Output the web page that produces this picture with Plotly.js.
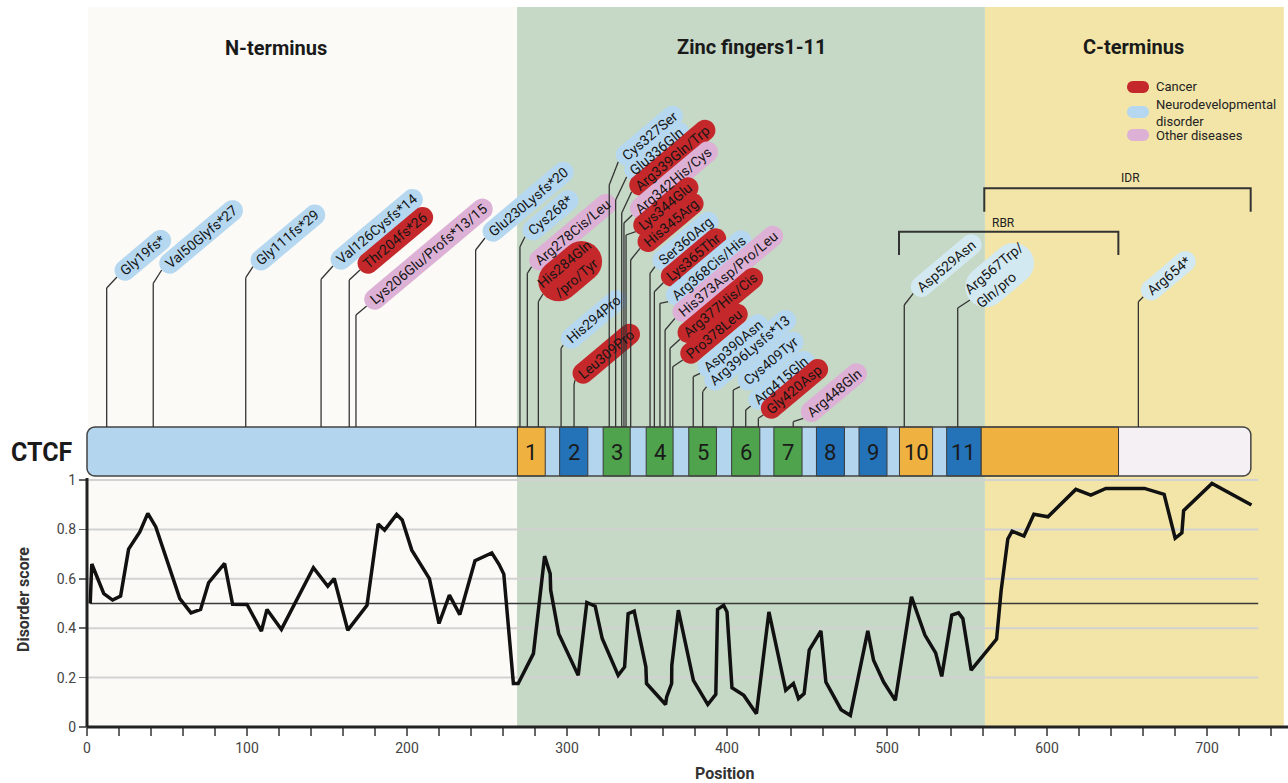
<!DOCTYPE html>
<html><head><meta charset="utf-8">
<script src="https://cdn.plot.ly/plotly-3.0.1.min.js"></script>
<style>html,body{margin:0;padding:0;background:#fff;}#chart{width:1288px;height:783px;}</style>
</head><body><div id="chart"></div>
<script>
// ================= DATA =================
// Disorder profile (position in aa, disorder score)
const positionAA = [2,3,10.5,16,21,26,33,38,43,58,65,71,76,86,91,100,109,112.5,121.5,141.5,150.5,154.5,163,175,182,186,193.5,197,203,214,220,226.5,233,242.5,253,257.5,260.5,266.5,269.5,279,286,289.5,289.8,294.8,307,312.4,317.6,322,332,336,338.2,342,349.3,349.7,361.6,362.3,365.4,365.5,369.6,379,388,393,394.1,397.9,400,403.1,410.5,418.4,426.2,436.7,441.5,444.7,448.2,451.4,458.7,461.8,471.3,477.1,488,491.6,497.9,505.2,515.3,523.7,530.4,534.2,540.5,544.7,547.4,552.6,568.5,571.3,575.5,578.2,585.6,591.8,600.6,618,627.4,636.8,660.9,673.2,680.1,684.3,685.4,703.1,727.8];
const disorderScore = [0.50,0.66,0.54,0.514,0.53,0.72,0.79,0.865,0.81,0.52,0.462,0.476,0.584,0.662,0.497,0.496,0.388,0.476,0.395,0.645,0.57,0.601,0.392,0.493,0.822,0.797,0.861,0.838,0.716,0.601,0.419,0.534,0.455,0.673,0.705,0.659,0.619,0.176,0.176,0.297,0.692,0.62,0.554,0.378,0.209,0.504,0.489,0.358,0.209,0.243,0.459,0.469,0.243,0.176,0.091,0.122,0.176,0.25,0.473,0.189,0.091,0.132,0.476,0.493,0.466,0.159,0.128,0.054,0.466,0.149,0.176,0.115,0.135,0.311,0.389,0.182,0.07,0.047,0.389,0.27,0.182,0.108,0.527,0.372,0.3,0.205,0.453,0.462,0.439,0.23,0.356,0.55,0.761,0.793,0.773,0.861,0.851,0.962,0.939,0.966,0.966,0.942,0.764,0.786,0.876,0.986,0.899];
const threshold = 0.5;

// Regions (background bands)
const regionNames = ['N-terminus','Zinc fingers1-11','C-terminus'];
const regionStart = [0.5, 268.8, 561.2];
const regionEnd = [268.8, 561.2, 748];

// Protein domains
const proteinLength = 727.4;
const znfLabels = ['1','2','3','4','5','6','7','8','9','10','11'];
const znfStart = [269,295.4,322.6,349.5,376.1,402.9,429.3,455.9,482.5,507.8,537.3];
const znfEnd   = [286.4,313,339.5,366.3,393.4,420.5,446.9,473.4,500,528.5,558.75];
const znfType  = ['orange','blue','green','green','green','green','green','blue','blue','orange','blue'];
const cTermOrange = [558.75, 644.7];
const cTermPale = [644.7, 727.4];
const bracketNames = ['IDR','RBR'];
const bracketStart = [560.8, 507.5];
const bracketEnd = [727.3, 644.6];

// Mutations
const mutNames = ['Gly19fs*','Val50Glyfs*27','Gly111fs*29','Val126Cysfs*14','Thr204fs*26','Lys206Glu/Profs*13/15','Glu230Lysfs*20','Cys268*','Arg278Cis/Leu','His284Gln<br>/pro/Tyr','His294Pro','Leu309Pro','Cys327Ser','Glu336Gln','Arg339Gln/Trp','Arg342His/Cys','Lys344Glu','His345Arg','Ser360Arg','Lys365Thr','Arg368Cis/His','His373Asp/Pro/Leu','Arg377His/Cis','Pro378Leu','Asp390Asn','Arg396Lysfs*13','Cys409Tyr','Arg415Gln','Gly420Asp','Arg448Gln','Asp529Asn','Arg567Trp/<br>Gln/pro','Arg654*'];
const mutCategory = ['neuro','neuro','neuro','neuro','cancer','other','neuro','neuro','other','cancer','neuro','cancer','neuro','neuro','cancer','other','cancer','cancer','neuro','cancer','neuro','other','cancer','cancer','neuro','neuro','neuro','neuro','cancer','other','neuro','neuro','neuro'];
const mutPos = [12.3,41.4,99.2,146.3,163.9,168.1,242.9,270.6,275.2,282.1,296.3,304.4,326.4,330.4,334.2,335.6,336.9,339.8,351.9,354.6,358.1,361.3,364.4,366.1,378.9,384.8,403.9,411.7,419.6,441.4,510.8,544.2,657.1];

const legendNames = ['Cancer','Neurodevelopmental<br>disorder','Other diseases'];
const legendCats = ['cancer','neuro','other'];

const yTickVals = [0,0.2,0.4,0.6,0.8,1];
const yTickText = ['0','0.2','0.4','0.6','0.8','1'];
const xTickVals = []; const xTickText = [];
for (let v = 0; v <= 740; v += 20) { xTickVals.push(v); xTickText.push(v % 100 === 0 ? String(v) : ''); }

// ================= LAYOUT (pixel positions / styles) =================
const FIG = {w:1288, h:783};
const MARGIN = {l:60, r:0, t:0, b:40};
const PW = FIG.w - MARGIN.l - MARGIN.r;
const PH = FIG.h - MARGIN.t - MARGIN.b;
const ORIGIN_PX = {x:87, y:727};
const PX_PER_X = 1.6, PX_PER_Y = 247;
const X_RANGE = [-(ORIGIN_PX.x - MARGIN.l)/PX_PER_X, (FIG.w - MARGIN.r - ORIGIN_PX.x)/PX_PER_X];
const Y_RANGE = [-(MARGIN.t + PH - ORIGIN_PX.y)/PX_PER_Y, (ORIGIN_PX.y - MARGIN.t)/PX_PER_Y];

function xOf(px){ return X_RANGE[0] + (px - MARGIN.l)/PW*(X_RANGE[1]-X_RANGE[0]); }
function yOf(py){ return Y_RANGE[0] + (MARGIN.t + PH - py)/PH*(Y_RANGE[1]-Y_RANGE[0]); }
function pxOf(x){ return MARGIN.l + (x - X_RANGE[0])/(X_RANGE[1]-X_RANGE[0])*PW; }
function paperX(px){ return (px - MARGIN.l)/PW; }
function paperY(py){ return (MARGIN.t + PH - py)/PH; }

const BAND_TOP_PX = 7;
const BOX_TOP_PX = 427, BOX_BOT_PX = 476;
const GRID_END = 732;
const stemTopPx = [288,283.3,277.7,279.3,280,315,250,246.7,273.3,301.7,348.3,385,185,200,213,223,235,260,273.3,291.7,303.3,330,348.3,366.7,376.7,391.7,390,410,418.3,421.7,305,308,301.7];
const labelStartPx = [[117,277],[161.7,270],[253,266.7],[333,266],[360,270],[366.7,306],[485,238],[525,236.7],[531.7,266.7],[543,294],[563.3,345],[575,380],[618.3,161.7],[626.7,176.7],[631.7,191.7],[632.3,215],[635.7,231.7],[640,248.3],[655,266.7],[663.3,282.7],[668.3,301.7],[675,318.3],[680,339.3],[682.7,360],[700,373.3],[706.7,386.7],[740,386.7],[750.7,406],[763.3,415],[803.3,418.3],[913.3,293.3],[970,300],[1143.3,296.7]];
const bracketYPx = [[188.3,211.7],[231.7,255]];
const bracketLabelPx = [[1130,178],[1003,223]];
const legendPx = [[1138,87],[1138,112],[1138,135]];
const regionTitlePx = [[276,48],[752,47],[1133,47]];

const COLORS = {
  band:['#FBFAF6','#C6D8C6','#F2E5A7'],
  cancer:'#C4282B', neuro:'#B5D8F0', neuroPale:'#D3E9F1', other:'#DDB1D5',
  nterm:'#B3D5EE', orange:'#EFB13F', blue:'#2472B8', green:'#4EA34C', pale:'#F4F0F4',
  border:'#3a3a3a', text:'#161616'
};
const paleLabels = new Set(['Asp529Asn','Arg567Trp/<br>Gln/pro','Arg654*']);
const ANGLE = 40;
const LABEL_FONT = 14;

// ================= HELPERS =================
const ctx = document.createElement('canvas').getContext('2d');
function textW(t, size, weight){ ctx.font = (weight||'normal') + ' ' + size + 'px Roboto'; return ctx.measureText(t).width; }
function toPath(pts){ return 'M' + pts.map(p => xOf(p[0]).toFixed(4) + ',' + yOf(p[1]).toFixed(5)).join('L') + 'Z'; }
function stadium(cx, cy, L, H, angDeg){
  const a = angDeg*Math.PI/180;
  const u = [Math.cos(a), -Math.sin(a)], n = [Math.sin(a), Math.cos(a)];
  const r = H/2, h = Math.max(L/2 - r, 0);
  const cr = [cx + u[0]*h, cy + u[1]*h], cl = [cx - u[0]*h, cy - u[1]*h];
  const pts = [], N = 14;
  for (let i = 0; i <= N; i++){ const t = Math.PI*i/N; pts.push([cr[0] + r*(Math.cos(t)*n[0] + Math.sin(t)*u[0]), cr[1] + r*(Math.cos(t)*n[1] + Math.sin(t)*u[1])]); }
  for (let i = 0; i <= N; i++){ const t = Math.PI*i/N; pts.push([cl[0] - r*(Math.cos(t)*n[0] + Math.sin(t)*u[0]), cl[1] - r*(Math.cos(t)*n[1] + Math.sin(t)*u[1])]); }
  return toPath(pts);
}
function arcPts(cx, cy, r, t0, t1){ const out = []; const N = 8; for (let i = 0; i <= N; i++){ const t = t0 + (t1-t0)*i/N; out.push([cx + r*Math.cos(t), cy + r*Math.sin(t)]); } return out; }
function roundRect(x0, x1, y0, y1, rl, rr){
  let pts = [];
  if (rr > 0){ pts = pts.concat(arcPts(x1-rr, y0+rr, rr, -Math.PI/2, 0)); pts = pts.concat(arcPts(x1-rr, y1-rr, rr, 0, Math.PI/2)); }
  else { pts.push([x1,y0]); pts.push([x1,y1]); }
  if (rl > 0){ pts = pts.concat(arcPts(x0+rl, y1-rl, rl, Math.PI/2, Math.PI)); pts = pts.concat(arcPts(x0+rl, y0+rl, rl, Math.PI, 1.5*Math.PI)); }
  else { pts.push([x0,y1]); pts.push([x0,y0]); }
  return toPath(pts);
}

const shapes = [], annotations = [];

// background bands
regionStart.forEach((s,i) => shapes.push({type:'rect', layer:'below', xref:'x', yref:'y', x0:s, x1:regionEnd[i], y0:0, y1:yOf(BAND_TOP_PX), fillcolor:COLORS.band[i], line:{width:0}}));
// grid lines
yTickVals.filter(v => v > 0).forEach(v => shapes.push({type:'line', layer:'below', xref:'x', yref:'y', x0:0, x1:GRID_END, y0:v, y1:v, line:{color:'#D2D2D2', width:2}}));
// threshold
shapes.push({type:'line', layer:'below', xref:'x', yref:'y', x0:2, x1:GRID_END, y0:threshold, y1:threshold, line:{color:'#3a3a3a', width:1.5}});
// axis lines
shapes.push({type:'line', layer:'above', xref:'x', yref:'y', x0:0, x1:X_RANGE[1], y0:0, y1:0, line:{color:'#222', width:3}});
shapes.push({type:'line', layer:'above', xref:'x', yref:'y', x0:0, x1:0, y0:0, y1:yOf(478), line:{color:'#222', width:3}});

// protein box
const bx0 = pxOf(0), bx1 = pxOf(proteinLength);
shapes.push({type:'path', layer:'above', xref:'x', yref:'y', path:roundRect(bx0, bx1, BOX_TOP_PX, BOX_BOT_PX, 8, 8), fillcolor:COLORS.pale, line:{width:0}});
shapes.push({type:'path', layer:'above', xref:'x', yref:'y', path:roundRect(bx0, pxOf(cTermPale[0]), BOX_TOP_PX, BOX_BOT_PX, 8, 0), fillcolor:COLORS.nterm, line:{width:0}});
shapes.push({type:'rect', layer:'above', xref:'x', yref:'y', x0:cTermOrange[0], x1:cTermOrange[1], y0:yOf(BOX_BOT_PX), y1:yOf(BOX_TOP_PX), fillcolor:COLORS.orange, line:{color:COLORS.border, width:1}});
znfStart.forEach((s,i) => {
  shapes.push({type:'rect', layer:'above', xref:'x', yref:'y', x0:s, x1:znfEnd[i], y0:yOf(BOX_BOT_PX), y1:yOf(BOX_TOP_PX), fillcolor:COLORS[znfType[i]], line:{color:COLORS.border, width:1}});
  annotations.push({xref:'paper', yref:'paper', x:paperX(pxOf((s+znfEnd[i])/2)), y:paperY((BOX_TOP_PX+BOX_BOT_PX)/2+1), text:znfLabels[i], showarrow:false, xanchor:'center', yanchor:'middle', font:{size:22, color:'#1a1a1a', family:'Roboto'}});
});
shapes.push({type:'path', layer:'above', xref:'x', yref:'y', path:roundRect(bx0, bx1, BOX_TOP_PX, BOX_BOT_PX, 8, 8), fillcolor:'rgba(0,0,0,0)', line:{color:'#444', width:1.5}});

// brackets
bracketNames.forEach((nm,i) => {
  const [yh, ye] = bracketYPx[i];
  shapes.push({type:'path', layer:'above', xref:'x', yref:'y', path:'M'+bracketStart[i]+','+yOf(ye)+'L'+bracketStart[i]+','+yOf(yh)+'L'+bracketEnd[i]+','+yOf(yh)+'L'+bracketEnd[i]+','+yOf(ye), fillcolor:'rgba(0,0,0,0)', line:{color:'#333', width:2}});
  annotations.push({xref:'paper', yref:'paper', x:paperX(bracketLabelPx[i][0]), y:paperY(bracketLabelPx[i][1]), text:nm, showarrow:false, xanchor:'center', yanchor:'middle', font:{size:12, color:'#222', family:'Roboto'}});
});

// mutation lollipops
const a = ANGLE*Math.PI/180, U = [Math.cos(a), -Math.sin(a)];
mutNames.forEach((nm,i) => {
  const topY = yOf(stemTopPx[i]);
  const [sx, sy] = labelStartPx[i];
  shapes.push({type:'line', layer:'above', xref:'x', yref:'y', x0:mutPos[i], x1:mutPos[i], y0:yOf(BOX_TOP_PX), y1:topY, line:{color:'#333', width:1.3}});
  shapes.push({type:'line', layer:'above', xref:'x', yref:'y', x0:mutPos[i], x1:xOf(sx), y0:topY, y1:yOf(sy), line:{color:'#333', width:1.3}});
  const lines = nm.split('<br>');
  const tw = Math.max(...lines.map(l => textW(l, LABEL_FONT)));
  const two = lines.length > 1;
  const H = two ? 41 : 21;
  const L = two ? tw + 6 : tw + 14;
  const cx = sx + U[0]*L/2, cy = sy + U[1]*L/2;
  let col = COLORS[mutCategory[i]];
  if (paleLabels.has(nm)) col = COLORS.neuroPale;
  shapes.push({type:'path', layer:'above', xref:'x', yref:'y', path:stadium(cx, cy, L, H, ANGLE), fillcolor:col, line:{width:0}});
  annotations.push({xref:'paper', yref:'paper', x:paperX(cx), y:paperY(cy), text:nm, showarrow:false, textangle:-ANGLE, xanchor:'center', yanchor:'middle', align: (nm.startsWith('His284') ? 'center' : 'left'), font:{size:LABEL_FONT, color:COLORS.text, family:'Roboto'}});
});

// legend
legendNames.forEach((nm,i) => {
  const [lx, ly] = legendPx[i];
  shapes.push({type:'path', layer:'above', xref:'x', yref:'y', path:stadium(lx, ly, 22, 12, 0), fillcolor:COLORS[legendCats[i]], line:{width:0}});
  annotations.push({xref:'paper', yref:'paper', x:paperX(lx+16), y:paperY(i===1 ? ly+1 : ly), text:nm, showarrow:false, xanchor:'left', yanchor:'middle', align:'left', font:{size:13, color:'#222', family:'Roboto'}});
});

// region titles
regionNames.forEach((nm,i) => annotations.push({xref:'paper', yref:'paper', x:paperX(regionTitlePx[i][0]), y:paperY(regionTitlePx[i][1]), text:'<b>'+nm+'</b>', showarrow:false, xanchor:'center', yanchor:'middle', font:{size:20, color:'#1a1a1a', family:'Roboto'}}));

// other text
annotations.push({xref:'paper', yref:'paper', x:paperX(42), y:paperY(452), text:'<b>CTCF</b>', showarrow:false, xanchor:'center', yanchor:'middle', font:{size:25, color:'#1a1a1a', family:'Roboto'}});
annotations.push({xref:'paper', yref:'paper', x:paperX(23), y:paperY(600), text:'<b>Disorder score</b>', textangle:-90, showarrow:false, xanchor:'center', yanchor:'middle', font:{size:16, color:'#333', family:'Roboto'}});
annotations.push({xref:'paper', yref:'paper', x:paperX(724), y:paperY(773), text:'<b>Position</b>', showarrow:false, xanchor:'center', yanchor:'middle', font:{size:16, color:'#333', family:'Roboto'}});

const trace = {type:'scatter', mode:'lines', x:positionAA, y:disorderScore, line:{color:'#111', width:3.5, shape:'linear'}, hoverinfo:'skip', cliponaxis:false};

const layout = {
  width:FIG.w, height:FIG.h, margin:MARGIN, paper_bgcolor:'#ffffff', plot_bgcolor:'rgba(0,0,0,0)', showlegend:false,
  font:{family:'Roboto, sans-serif'},
  xaxis:{range:X_RANGE, anchor:'free', position:paperY(ORIGIN_PX.y), showgrid:false, zeroline:false, showline:false, ticks:'outside', ticklen:8, tickwidth:1.5, tickcolor:'#666', tickvals:xTickVals, ticktext:xTickText, tickfont:{size:14, color:'#444', family:'Roboto'}, fixedrange:true},
  yaxis:{range:Y_RANGE, anchor:'free', position:paperX(ORIGIN_PX.x), showgrid:false, zeroline:false, showline:false, ticks:'outside', ticklen:8, tickwidth:1.5, tickcolor:'#666', tickvals:yTickVals, ticktext:yTickText, tickfont:{size:14, color:'#444', family:'Roboto'}, fixedrange:true},
  shapes:shapes, annotations:annotations
};
Plotly.newPlot('chart', [trace], layout, {displayModeBar:false, staticPlot:true});
</script></body></html>
